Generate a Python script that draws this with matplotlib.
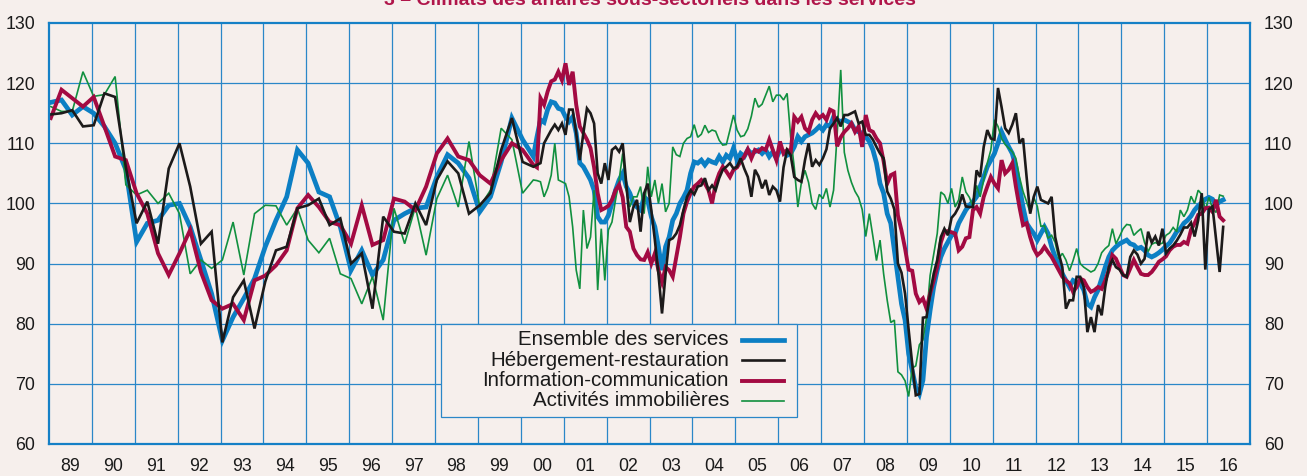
import matplotlib
matplotlib.use("Agg")
import matplotlib.pyplot as plt
from matplotlib.patches import Rectangle
from matplotlib.lines import Line2D
import numpy as np

plt.rcParams['font.family'] = ['Liberation Sans', 'DejaVu Sans']

# ---------------- data ----------------
series_names = ["Ensemble des services", "Hébergement-restauration",
                "Information-communication", "Activités immobilières"]
year_labels = ["89", "90", "91", "92", "93", "94", "95", "96", "97", "98", "99",
               "00", "01", "02", "03", "04", "05", "06", "07", "08", "09", "10",
               "11", "12", "13", "14", "15", "16"]

# quarterly values, 1989Q1 .. 2000Q1
ens_q = [116.8, 117.2, 114.7, 116.1, 115.0, 112.8, 110.0, 105.6,
         93.6, 96.7, 97.2, 99.7, 100.0, 96.1, 90.6, 85.0,
         77.2, 81.1, 84.2, 87.5, 92.8, 97.2, 101.1, 108.9,
         106.7, 101.9, 101.1, 96.1, 88.9, 92.2, 88.1, 90.6,
         97.2, 98.3, 99.2, 99.4, 104.4, 108.1, 106.7, 104.2,
         98.6, 101.1, 106.9, 114.2, 110.6]
heb_q = [114.8, 115.0, 115.5, 112.8, 113.0, 118.3, 117.7, 106.0,
         96.7, 100.3, 93.3, 105.8, 110.0, 102.8, 93.3, 95.3,
         76.9, 84.4, 87.2, 79.2, 87.0, 92.2, 92.8, 99.2,
         99.7, 100.8, 96.4, 97.5, 90.0, 91.7, 82.5, 97.8,
         95.3, 95.0, 100.0, 96.4, 103.9, 107.0, 105.0, 98.3,
         99.7, 101.7, 108.9, 114.2, 106.9]
info_q = [114.2, 118.9, 117.5, 116.1, 117.7, 112.8, 107.8, 107.2,
          101.7, 98.3, 91.7, 88.1, 91.7, 95.6, 88.6, 83.9,
          82.5, 83.3, 80.6, 87.2, 88.0, 89.7, 92.2, 99.2,
          101.4, 99.4, 96.9, 96.4, 93.3, 99.7, 93.1, 93.9,
          100.8, 100.3, 98.9, 102.8, 108.3, 110.8, 107.8, 107.2,
          104.7, 103.3, 107.2, 110.0, 108.9]
immo_q = [116.1, 115.3, 115.3, 121.9, 117.8, 118.1, 121.1, 103.1,
          101.4, 102.2, 100.0, 101.7, 98.3, 88.3, 90.6, 89.2,
          90.6, 96.9, 88.1, 98.3, 99.7, 99.6, 96.4, 99.2,
          93.9, 91.8, 94.2, 88.3, 87.5, 83.3, 87.8, 80.6,
          99.2, 93.3, 99.4, 91.4, 100.8, 104.7, 99.4, 110.3,
          99.4, 102.2, 112.5, 110.6, 101.7]

# monthly values, April 2000 .. May 2016
ens_m = [107.8, 111.0, 113.9, 113.5, 115.6, 116.9, 116.7, 115.8, 115.6,
         114.4, 113.6, 114.4, 111.7, 106.7, 106.1, 105.0, 103.9, 102.2, 97.8, 96.9, 96.9,
         98.0, 100.0, 102.2, 103.9, 105.0, 102.8, 101.7, 100.0, 99.4, 98.9, 101.1, 100.5,
         97.8, 96.1, 92.8, 88.9, 92.8, 94.4, 97.2, 98.3, 100.0, 101.0, 102.2, 105.0,
         106.9, 106.7, 107.2, 106.4, 107.2, 106.9, 106.7, 107.8, 106.9, 108.0, 107.5, 109.2,
         107.2, 108.3, 107.8, 108.9, 108.3, 108.6, 108.9, 108.3, 108.9, 107.8, 108.6, 107.5,
         108.9, 108.6, 108.0, 108.3, 109.4, 111.1, 110.3, 111.1, 111.4, 111.7, 112.2, 112.8,
         112.2, 113.1, 112.8, 114.4, 113.9, 113.6, 113.9, 113.6, 113.3, 112.2, 111.9, 111.7,
         111.1, 110.3, 108.9, 106.7, 103.3, 101.7, 98.3, 96.7, 92.2, 87.8, 83.3, 80.6,
         75.0, 72.2, 69.4, 68.3, 70.6, 77.8, 82.2, 86.1, 88.9, 91.1, 92.5, 93.6,
         94.7, 95.0, 96.7, 97.8, 98.9, 99.7, 100.3, 101.1, 102.8, 104.4, 106.1, 107.2,
         108.3, 110.0, 111.9, 110.6, 109.4, 108.3, 106.1, 102.8, 99.4, 96.7, 95.8, 95.0,
         93.9, 95.0, 96.1, 95.0, 92.8, 91.1, 90.0, 88.3, 87.2, 86.1, 87.2, 86.9,
         86.7, 85.6, 83.3, 82.8, 84.4, 85.6, 87.5, 89.4, 91.1, 92.2, 92.8, 93.3,
         93.6, 93.9, 93.3, 93.1, 92.5, 92.7, 92.2, 91.4, 91.1, 91.4, 91.8, 92.3,
         92.9, 93.4, 94.3, 95.3, 95.8, 96.7, 97.2, 97.9, 98.9, 99.6, 100.1, 100.7,
         101.0, 100.7, 99.7, 100.3, 100.6]
heb_m = [106.1, 106.4, 106.7, 110.0, 111.1, 112.2, 113.1, 112.2, 113.3,
         111.4, 115.6, 115.6, 111.7, 107.2, 111.7, 115.8, 115.0, 113.3, 105.0, 103.3, 106.7,
         103.9, 108.9, 109.4, 108.6, 110.0, 103.3, 96.9, 99.4, 100.6, 95.3, 101.7, 103.3,
         98.9, 93.9, 88.3, 81.7, 88.3, 93.9, 94.2, 95.0, 96.4, 98.9, 101.1, 102.2,
         101.5, 102.8, 103.0, 104.2, 102.2, 103.0, 102.2, 104.2, 105.6, 106.1, 106.7, 105.8,
         106.1, 107.5, 105.8, 104.4, 101.1, 105.6, 104.5, 102.5, 103.9, 101.4, 102.8, 102.2,
         100.3, 106.0, 108.9, 108.0, 104.4, 103.9, 103.6, 107.2, 110.0, 106.1, 107.2, 106.4,
         107.5, 109.0, 112.5, 113.3, 114.2, 112.8, 114.7, 114.7, 115.0, 115.3, 113.3, 113.6,
         111.4, 111.4, 110.6, 109.4, 108.3, 107.5, 102.0, 100.8, 99.0, 90.0, 88.5, 85.0,
         79.0, 73.3, 68.1, 68.3, 81.0, 81.1, 85.0, 88.3, 90.6, 94.4, 95.8, 94.7,
         97.6, 98.3, 99.4, 101.5, 99.5, 99.4, 99.4, 105.5, 104.4, 109.4, 112.2, 110.8,
         110.6, 119.2, 116.0, 112.5, 111.7, 113.1, 115.0, 110.0, 110.8, 104.4, 98.3, 101.1,
         102.8, 100.6, 100.3, 100.0, 101.1, 94.4, 91.7, 89.4, 82.5, 83.9, 83.9, 87.8,
         87.8, 86.1, 78.6, 81.1, 78.6, 83.1, 81.4, 86.1, 89.4, 90.6, 89.4, 89.0,
         88.1, 87.8, 91.1, 92.2, 91.5, 90.0, 90.8, 95.3, 93.5, 94.5, 93.0, 95.8,
         91.7, 92.5, 93.0, 93.8, 94.8, 96.0, 96.0, 96.8, 94.5, 97.2, 101.7, 89.0,
         99.0, 99.5, 94.0, 88.6, 96.1]
info_m = [106.4, 106.0, 117.5, 116.4, 118.6, 120.3, 120.6, 121.9, 120.5,
          123.3, 119.7, 121.9, 116.4, 112.8, 111.7, 110.6, 109.2, 106.0, 101.7, 98.9, 99.2,
          99.6, 100.6, 102.2, 103.1, 101.0, 96.1, 95.3, 92.5, 91.4, 90.7, 90.6, 91.9,
          90.0, 91.7, 88.9, 86.9, 89.4, 88.9, 87.8, 91.1, 94.4, 98.3, 100.3, 101.7,
          102.8, 103.3, 103.9, 103.3, 102.2, 100.0, 103.3, 105.0, 106.1, 105.3, 104.4, 105.6,
          106.0, 107.0, 107.8, 109.0, 107.5, 108.9, 108.6, 109.2, 108.9, 110.6, 108.9, 107.2,
          110.3, 108.3, 108.9, 108.6, 114.4, 113.6, 114.4, 112.5, 111.9, 113.9, 115.0, 114.2,
          114.7, 113.9, 115.6, 115.3, 109.5, 111.0, 111.9, 112.5, 113.3, 111.9, 112.8, 109.4,
          114.7, 112.2, 111.9, 110.8, 110.0, 107.0, 103.3, 104.7, 105.0, 98.0, 95.5, 92.5,
          89.0, 88.8, 85.0, 83.6, 84.2, 82.5, 85.0, 87.2, 89.5, 93.5, 95.3, 95.4,
          95.2, 95.0, 92.2, 92.8, 94.2, 94.4, 98.9, 99.4, 98.3, 101.1, 102.8, 104.4,
          103.3, 102.5, 107.2, 105.0, 105.6, 106.7, 102.8, 99.4, 96.4, 96.7, 94.4, 92.5,
          91.4, 91.9, 92.8, 91.9, 91.1, 90.0, 88.9, 87.8, 87.2, 86.7, 85.3, 86.1,
          87.5, 87.2, 86.1, 85.3, 85.6, 86.1, 85.8, 87.2, 88.9, 91.4, 90.8, 89.4,
          88.1, 87.8, 89.2, 90.6, 89.4, 88.3, 88.1, 88.1, 88.6, 89.4, 90.3, 90.7,
          91.2, 92.2, 92.8, 93.1, 93.1, 93.6, 93.3, 95.6, 96.7, 98.1, 98.3, 99.2,
          99.3, 98.6, 100.6, 97.8, 97.2]
immo_m = [103.9, 103.8, 103.6, 101.1, 102.5, 104.7, 110.0, 103.9, 103.6,
          103.3, 101.1, 96.1, 88.9, 85.8, 98.9, 92.5, 94.4, 102.2, 85.6, 95.8, 87.2,
          95.6, 96.9, 100.6, 103.9, 108.3, 102.2, 99.4, 101.1, 101.1, 102.8, 98.3, 106.1,
          101.1, 103.9, 100.0, 103.3, 98.6, 100.0, 109.4, 108.1, 107.8, 110.0, 110.8, 111.1,
          113.1, 111.0, 111.5, 113.0, 111.8, 112.2, 112.0, 110.5, 109.7, 109.8, 112.2, 114.7,
          112.2, 111.1, 111.3, 112.4, 114.5, 117.5, 116.0, 116.5, 118.0, 119.5, 116.9, 118.0,
          118.0, 117.2, 118.3, 111.0, 106.0, 99.4, 103.5, 105.5, 103.5, 100.0, 99.0, 101.5,
          100.8, 102.5, 99.4, 102.2, 111.5, 122.2, 108.5, 105.5, 103.5, 102.0, 101.0, 99.0,
          94.5, 98.3, 94.5, 90.5, 93.9, 88.3, 83.9, 80.2, 80.6, 72.0, 71.5, 70.5,
          67.9, 72.6, 73.0, 76.5, 77.3, 81.0, 88.0, 91.5, 95.0, 101.9, 101.4, 100.0,
          102.5, 99.4, 100.6, 104.4, 101.9, 101.0, 99.4, 103.0, 101.1, 103.9, 106.7, 108.9,
          113.9, 112.8, 110.8, 109.8, 109.2, 108.6, 107.5, 104.4, 102.0, 100.3, 98.5, 101.0,
          99.5, 96.2, 96.3, 94.2, 94.7, 93.5, 90.8, 91.7, 90.6, 88.8, 90.5, 92.5,
          90.0, 89.4, 89.0, 88.6, 88.9, 90.0, 91.8, 92.5, 93.0, 95.8, 93.3, 94.5,
          95.8, 96.5, 96.4, 94.7, 95.3, 95.8, 93.5, 92.0, 93.2, 93.5, 93.2, 93.4,
          94.7, 95.1, 96.0, 95.3, 98.9, 97.8, 98.9, 101.2, 100.0, 102.2, 101.5, 98.9,
          101.0, 99.2, 98.5, 101.4, 101.2]

# time axes (decimal years)
t_q = np.array([1989 + i / 4 + 1 / 24 for i in range(len(ens_q))])
def t_month(n):
    return np.array([2000 + (3 + i) / 12 + 1 / 24 for i in range(n)])

# ---------------- style ----------------
bg = "#F6EFEC"
grid_c = "#2a87c8"
spine_c = "#1580c6"
c_ens, c_heb, c_info, c_immo = "#0c7fc4", "#1c1a1a", "#a30a42", "#11903f"

fig = plt.figure(figsize=(13.07, 4.76), dpi=100, facecolor=bg)
W, H = 1307, 476
ax = fig.add_axes([49 / W, 1 - 444 / H, (1250 - 49) / W, (444 - 23) / H])
ax.set_facecolor(bg)
ax.set_xlim(1989, 2017)
ax.set_ylim(60, 130)

for y in range(70, 130, 10):
    ax.axhline(y, color=grid_c, lw=0.9, zorder=1)
for yr in range(1990, 2017):
    ax.axvline(yr, color=grid_c, lw=0.9, zorder=1)

def plot_series(q, m, color, lw, z):
    t = np.concatenate([t_q, t_month(len(m))])
    v = np.concatenate([q, m])
    ax.plot(t, v, color=color, lw=lw, zorder=z, solid_joinstyle='miter')

plot_series(ens_q, ens_m, c_ens, 3.4, 3)
plot_series(immo_q, immo_m, c_immo, 1.2, 4)
plot_series(info_q, info_m, c_info, 2.8, 5)
plot_series(heb_q, heb_m, c_heb, 1.9, 6)

for s in ax.spines.values():
    s.set_color(spine_c)
    s.set_linewidth(1.6)
    s.set_zorder(10)

ax.set_yticks(range(60, 131, 10))
ax.set_xticks([1989.5 + i for i in range(len(year_labels))])
ax.set_xticklabels(year_labels)
ax.tick_params(axis='both', length=0, labelsize=12.8, colors='#1a1a1a')
ax.tick_params(axis='y', pad=10, labelleft=True, labelright=True)
ax.tick_params(axis='x', pad=10)

# legend (drawn manually: text right-aligned, sample line on the right)
leg_rect = Rectangle((441 / W, 1 - 417 / H), 356 / W, 93 / H, transform=fig.transFigure,
                     facecolor=bg, edgecolor=grid_c, lw=0.9, zorder=8, clip_on=False)
ax.add_patch(leg_rect)
rows_y = [339.5, 360, 380.5, 401]
styles = [(c_ens, 3.4), (c_heb, 1.9), (c_info, 2.8), (c_immo, 1.2)]
for name, yy, (c, lw) in zip(series_names, rows_y, styles):
    fig.text(729 / W, 1 - yy / H, name, ha='right', va='center', fontsize=14.8,
             color='#1a1a1a', zorder=9)
    fig.add_artist(Line2D([742 / W, 784 / W], [1 - yy / H, 1 - yy / H], color=c, lw=lw,
                          transform=fig.transFigure, zorder=9))

# title (clipped at top edge as in the source)
fig.text(650 / W, 1 - 5 / H, "3 – Climats des affaires sous-sectoriels dans les services",
         ha='center', va='baseline', fontsize=14, fontweight='bold', color='#b0154a')

fig.savefig("out.png", dpi=100, facecolor=bg)
